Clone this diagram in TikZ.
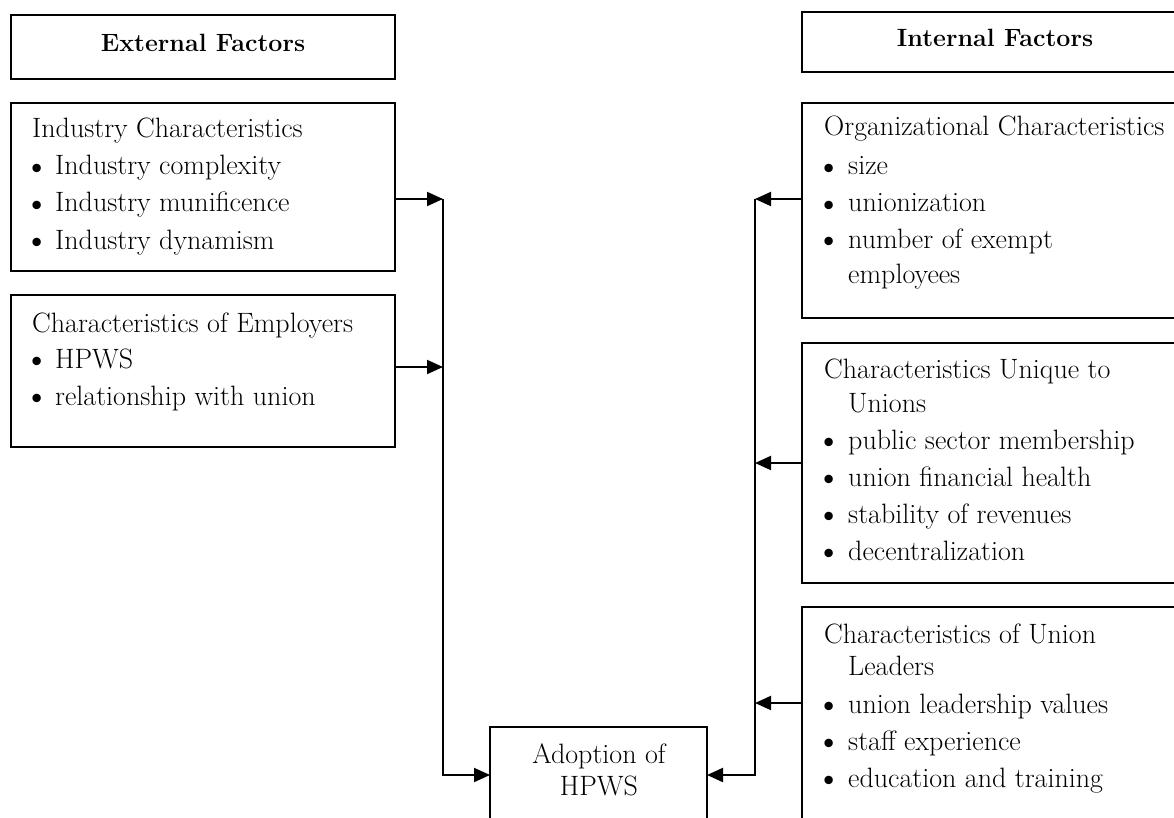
\documentclass[tikz,border=0pt]{standalone}
\usetikzlibrary{arrows.meta}
\begin{document}
\begin{tikzpicture}[x=1pt,y=-1pt,
  box/.style={draw, line width=2pt, inner sep=0pt, outer sep=0pt, anchor=north west},
  txt/.style={anchor=base west, inner sep=0pt, font=\fontsize{28}{32}\selectfont},
  ctxt/.style={anchor=base, inner sep=0pt, font=\fontsize{28}{32}\selectfont},
  bul/.style={anchor=center, inner sep=0pt, yshift=-4pt, font=\fontsize{28}{32}\selectfont},
  head/.style={anchor=base, inner sep=0pt, font=\fontsize{25}{29}\selectfont\bfseries},
  arr/.style={line width=2pt, -{Triangle[length=16pt,width=14pt]}},
]
\newcommand{\bulletmark}{\makebox[0pt]{\scalebox{1.35}{\textbullet}}}
\useasboundingbox (0,0) rectangle (1174,818);
\clip (0,0) rectangle (1174,818);

% ---- external factors (left column)
\node[box, minimum width=384pt, minimum height=64pt] (ext) at (11,15) {};
\node[head] (extlbl) at (203,52) {External Factors};

\node[box, minimum width=384pt, minimum height=168pt] (ind) at (11,103) {};
\node[txt] (indh) at (32,138) {Industry Characteristics};
\node[bul] (ind1d) at (37.5,167) {\bulletmark};
\node[txt] (ind1) at (55,175) {Industry complexity};
\node[bul] (ind2d) at (37.5,204) {\bulletmark};
\node[txt] (ind2) at (55,212) {Industry munificence};
\node[bul] (ind3d) at (37.5,241) {\bulletmark};
\node[txt] (ind3) at (55,249) {Industry dynamism};

\node[box, minimum width=384pt, minimum height=152pt] (emp) at (11,295) {};
\node[txt] (emph) at (32,332) {Characteristics of Employers};
\node[bul] (emp1d) at (37.5,360) {\bulletmark};
\node[txt] (emp1) at (55,368) {HPWS};
\node[bul] (emp2d) at (37.5,397) {\bulletmark};
\node[txt] (emp2) at (55,405) {relationship with union};

% ---- internal factors (right column)
\node[box, minimum width=386pt, minimum height=60pt] (int) at (802,12) {};
\node[head] (intlbl) at (995,47) {Internal Factors};

\node[box, minimum width=386pt, minimum height=215pt] (org) at (802,103) {};
\node[txt] (orgh) at (824,136) {Organizational Characteristics};
\node[bul] (org1d) at (829,167) {\bulletmark};
\node[txt] (org1) at (848,175) {size};
\node[bul] (org2d) at (829,204) {\bulletmark};
\node[txt] (org2) at (848,212) {unionization};
\node[bul] (org3d) at (829,240) {\bulletmark};
\node[txt] (org3) at (848,248) {number of exempt};
\node[txt] (org3b) at (848,283) {employees};

\node[box, minimum width=386pt, minimum height=240pt] (uni) at (802,343) {};
\node[txt] (unih) at (824,378) {Characteristics Unique to};
\node[txt] (unihb) at (848,412) {Unions};
\node[bul] (uni1d) at (829,441) {\bulletmark};
\node[txt] (uni1) at (848,449) {public sector membership};
\node[bul] (uni2d) at (829,478) {\bulletmark};
\node[txt] (uni2) at (848,486) {union financial health};
\node[bul] (uni3d) at (829,515) {\bulletmark};
\node[txt] (uni3) at (848,523) {stability of revenues};
\node[bul] (uni4d) at (829,552) {\bulletmark};
\node[txt] (uni4) at (848,560) {decentralization};

\node[box, minimum width=386pt, minimum height=260pt] (lead) at (802,607) {};
\node[txt] (leadh) at (824,643) {Characteristics of Union};
\node[txt] (leadhb) at (848,675) {Leaders};
\node[bul] (lead1d) at (829,705) {\bulletmark};
\node[txt] (lead1) at (848,713) {union leadership values};
\node[bul] (lead2d) at (829,742) {\bulletmark};
\node[txt] (lead2) at (848,750) {staff experience};
\node[bul] (lead3d) at (829,779) {\bulletmark};
\node[txt] (lead3) at (848,787) {education and training};

% ---- outcome
\node[box, minimum width=217pt, minimum height=130pt] (ad) at (490,727) {};
\node[ctxt] (adl1) at (599,763) {Adoption of};
\node[ctxt] (adl2) at (599,795) {HPWS};

% ---- junction points on the two collecting lines
\coordinate (tl1) at (443,199);
\coordinate (tl2) at (443,367);
\coordinate (tl3) at (443,775);
\coordinate (tr1) at (755,199);
\coordinate (tr2) at (755,463);
\coordinate (tr3) at (755,703);
\coordinate (tr4) at (755,775);

% ---- connectors
\draw[arr] (ind.east |- tl1) -- (tl1);
\draw[arr] (emp.east |- tl2) -- (tl2);
\draw[arr] (tl1) -- (tl3) -- (ad.west |- tl3);

\draw[arr] (org.west |- tr1) -- (tr1);
\draw[arr] (uni.west |- tr2) -- (tr2);
\draw[arr] (lead.west |- tr3) -- (tr3);
\draw[arr] (tr1) -- (tr4) -- (ad.east |- tr4);
\end{tikzpicture}
\end{document}
